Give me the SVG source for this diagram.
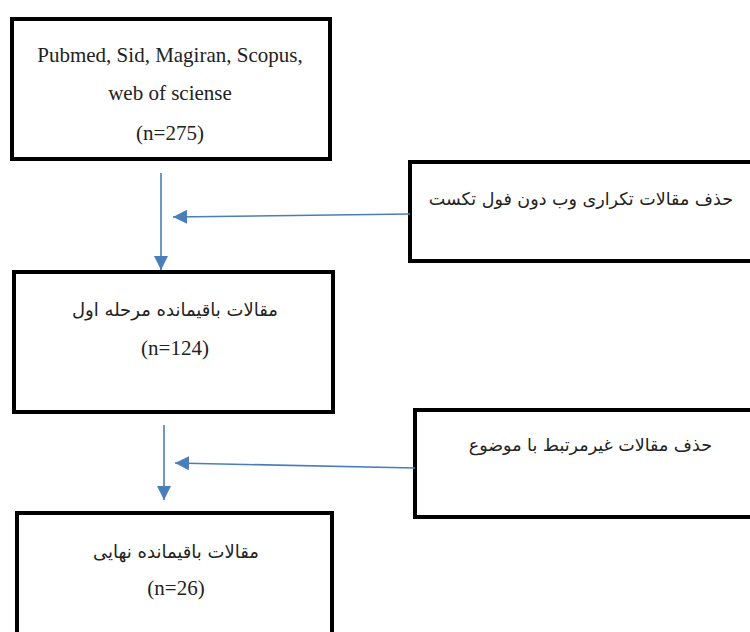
<svg xmlns="http://www.w3.org/2000/svg" width="750" height="632" viewBox="0 0 750 632">
<style>
.box{fill:#fff;stroke:#000;stroke-width:4}
.en{font-family:"Liberation Serif","Times New Roman",serif;font-size:21px;fill:#222;text-anchor:middle}
.fa{font-family:"DejaVu Sans","Noto Sans",sans-serif;font-size:18px;fill:#222;text-anchor:middle;direction:rtl}
.fa2{font-family:"DejaVu Sans","Noto Sans",sans-serif;font-size:17.5px;fill:#222;text-anchor:start;direction:rtl}
.conn{stroke:#4a7ebb;stroke-width:1.6;fill:none}
</style>
<defs>
<marker id="ah" markerUnits="userSpaceOnUse" markerWidth="15" markerHeight="14" refX="14" refY="7" orient="auto">
<path d="M0,0 L14,7 L0,14 z" fill="#4a7ebb"/>
</marker>
</defs>
<rect width="750" height="632" fill="#fff"/>
<g id="node-sources">
<rect class="box" x="12" y="19" width="318" height="140"/>
<text class="en" x="170" y="62">Pubmed, Sid, Magiran, Scopus,</text>
<text class="en" x="170" y="100">web of sciense</text>
<text class="en" x="170" y="140">(n=275)</text>
</g>
<g id="node-remove-duplicates">
<rect class="box" x="410" y="162" width="360" height="99"/>
<text class="fa2" x="733" y="205">حذف مقالات تکراری وب دون فول تکست</text>
</g>
<g id="node-stage1">
<rect class="box" x="14" y="272" width="319" height="140"/>
<text class="fa" x="175" y="316">مقالات باقیمانده مرحله اول</text>
<text class="en" x="175" y="355">(n=124)</text>
</g>
<g id="node-remove-irrelevant">
<rect class="box" x="415" y="410" width="360" height="107"/>
<text class="fa2" x="712" y="451">حذف مقالات غیرمرتبط با موضوع</text>
</g>
<g id="node-final">
<rect class="box" x="17" y="513" width="315" height="200"/>
<text class="fa" x="176" y="558">مقالات باقیمانده نهایی</text>
<text class="en" x="176" y="595">(n=26)</text>
</g>
<g id="connectors">
<line class="conn" x1="161" y1="173" x2="161" y2="270" marker-end="url(#ah)"/>
<line class="conn" x1="410" y1="214" x2="173" y2="217" marker-end="url(#ah)"/>
<line class="conn" x1="164" y1="425" x2="164" y2="500" marker-end="url(#ah)"/>
<line class="conn" x1="415" y1="468" x2="175" y2="463" marker-end="url(#ah)"/>
</g>
</svg>
